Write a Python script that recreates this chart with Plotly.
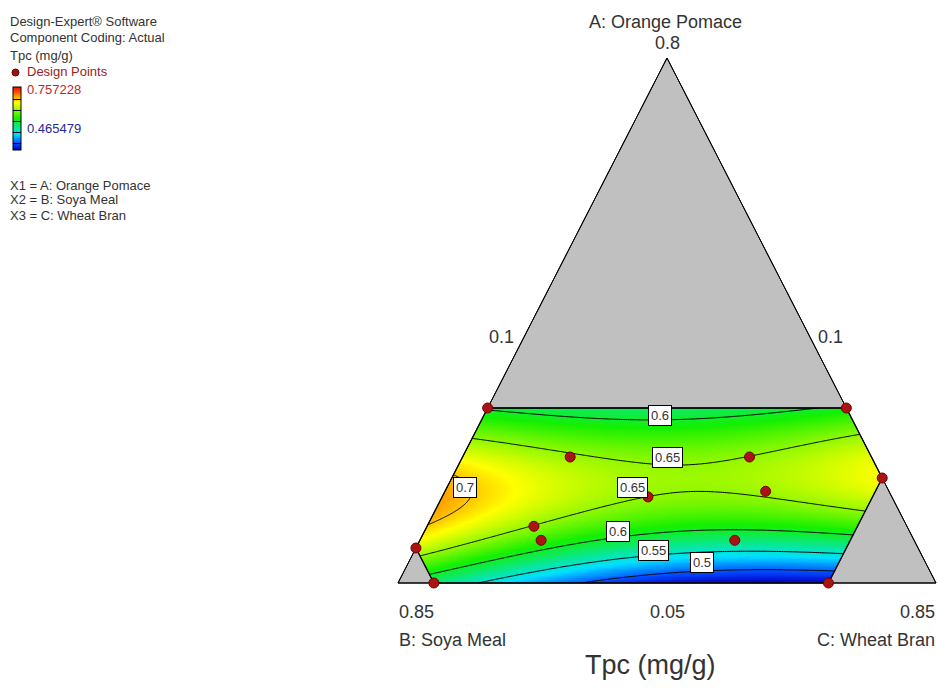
import numpy as np
import plotly.graph_objects as go

# ---------------- data ----------------
# component bounds (actual): A Orange Pomace, B Soya Meal, C Wheat Bran
A_lo, B_lo, C_lo = 0.05, 0.10, 0.10
A_hi_vertex, B_hi_vertex, C_hi_vertex = 0.8, 0.85, 0.85
# constrained design region limits
A_max, B_max, C_max = 0.30, 0.80, 0.70

# design points (A, B, C)
pt_A = [0.30, 0.30, 0.20, 0.05, 0.05, 0.10, 0.23, 0.23, 0.173, 0.181, 0.131, 0.111, 0.111]
pt_B = [0.60, 0.10, 0.10, 0.25, 0.80, 0.80, 0.52, 0.27, 0.440, 0.272, 0.620, 0.620, 0.350]
pt_C = [0.10, 0.60, 0.70, 0.70, 0.15, 0.10, 0.25, 0.50, 0.387, 0.547, 0.249, 0.269, 0.539]

# Tpc (mg/g) response: A, (C - B), value
read_A = [0.293, 0.287, 0.283, 0.287, 0.297,
          0.261, 0.243, 0.230, 0.219, 0.211, 0.230, 0.250, 0.266,
          0.209, 0.190, 0.173, 0.155, 0.136,
          0.090, 0.107, 0.130, 0.173, 0.189, 0.187, 0.180, 0.156,
          0.064, 0.093, 0.116, 0.119, 0.123, 0.121, 0.119,
          0.050, 0.071, 0.093, 0.093, 0.093,
          0.050, 0.059, 0.069, 0.069, 0.069,
          0.050, 0.050, 0.050, 0.175, 0.200, 0.300, 0.300, 0.300,
          0.200, 0.200, 0.150, 0.050,
          0.200, 0.175, 0.175, 0.290, 0.215, 0.050]
read_CB = [-0.493, -0.270, 0.050, 0.156, 0.390,
           -0.533, -0.400, -0.270, -0.039, 0.064, 0.223, 0.390, 0.530,
           -0.591, -0.565, -0.563, -0.600, -0.661,
           -0.700, -0.558, -0.374, -0.056, 0.064, 0.167, 0.279, 0.546,
           -0.652, -0.374, -0.151, -0.075, 0.112, 0.343, 0.490,
           -0.530, -0.300, -0.075, 0.200, 0.480,
           -0.270, -0.100, 0.064, 0.300, 0.450,
           0.000, 0.300, 0.450, -0.625, 0.600, 0.000, -0.500, 0.500,
           -0.300, 0.350, -0.300, -0.650,
           0.060, -0.500, -0.400, -0.050, 0.000, -0.150]
read_tpc = [0.60, 0.60, 0.60, 0.60, 0.60,
            0.65, 0.65, 0.65, 0.65, 0.65, 0.65, 0.65, 0.65,
            0.70, 0.70, 0.70, 0.70, 0.70,
            0.65, 0.65, 0.65, 0.65, 0.65, 0.65, 0.65, 0.65,
            0.60, 0.60, 0.60, 0.60, 0.60, 0.60, 0.60,
            0.55, 0.55, 0.55, 0.55, 0.55,
            0.50, 0.50, 0.50, 0.50, 0.50,
            0.476, 0.467, 0.466, 0.722, 0.685, 0.585, 0.597, 0.602,
            0.672, 0.665, 0.680, 0.580,
            0.653, 0.682, 0.672, 0.597, 0.652, 0.488]

legend_max, legend_min = 0.757228, 0.465479
contour_levels = [0.50, 0.55, 0.60, 0.65, 0.70]
# contour label positions (level text, A, C-B)
lab_text = ["0.6", "0.65", "0.65", "0.7", "0.6", "0.55", "0.5"]
lab_A = [0.289, 0.229, 0.187, 0.187, 0.123, 0.096, 0.080]
lab_CB = [-0.020, 0.000, -0.095, -0.562, -0.136, -0.039, 0.098]

# ---------------- model (polynomial fit to the read values) ----------------
rA = np.array(read_A); rX = np.array(read_CB); rZ = np.array(read_tpc)
terms = [(i, j) for i in range(5) for j in range(5 - i)]
def basis(a, x):
    u = (a - 0.175) / 0.125
    v = x / 0.65
    return np.stack([u**i * v**j for i, j in terms], axis=-1)
coef = np.linalg.lstsq(basis(rA, rX), rZ, rcond=None)[0]

gx = np.linspace(-0.70, 0.60, 261)
gA = np.linspace(A_lo, A_max, 126)
GX, GA = np.meshgrid(gx, gA)
GZ = basis(GA, GX) @ coef

# ---------------- figure ----------------
W, H = 937, 690
# pixel geometry of the simplex: apex (667,58), base y=583, base from 398 to 936
sx = 538 / 1.5
sy = 525 / 0.75
x_range = [-667 / sx, (W - 667) / sx]
y_range = [A_lo - (H - 583) / sy, A_lo + 583 / sy]

FONT = "Liberation Sans, Arial, sans-serif"

colorscale = [[0.0, "rgb(0,0,190)"], [0.1, "rgb(0,70,255)"], [0.25, "rgb(0,225,255)"],
              [0.5, "rgb(20,240,0)"], [0.75, "rgb(255,255,0)"], [1.0, "rgb(255,0,0)"]]

fig = go.Figure()
fig.add_trace(go.Contour(
    x=gx, y=gA, z=GZ, zmin=legend_min, zmax=legend_max, colorscale=colorscale,
    contours=dict(start=contour_levels[0], end=contour_levels[-1], size=0.05,
                  coloring="heatmap", showlabels=False),
    line=dict(color="black", width=1), line_smoothing=0.8,
    showscale=True, hoverinfo="skip",
    colorbar=dict(x=13 / W, xanchor="left", y=1 - 87 / H, yanchor="top",
                  lenmode="pixels", len=63, thicknessmode="pixels", thickness=8,
                  outlinecolor="black", outlinewidth=1, showticklabels=False, ticks="",
                  xpad=0, ypad=0, bgcolor="rgba(0,0,0,0)", borderwidth=0)))

def corner(a, b, c):
    return (c - b, a)

def poly(pts, fill, line_w, line_c="black"):
    xs = [p[0] for p in pts] + [pts[0][0]]
    ys = [p[1] for p in pts] + [pts[0][1]]
    fig.add_trace(go.Scatter(x=xs, y=ys, mode="lines", fill="toself", fillcolor=fill,
                             line=dict(color=line_c, width=line_w), hoverinfo="skip",
                             showlegend=False))

# vertices of simplex and region
VA = corner(A_hi_vertex, B_lo, C_lo)
VB = corner(A_lo, B_hi_vertex, C_lo)
VC = corner(A_lo, B_lo, C_hi_vertex)
R1 = corner(A_max, 1 - A_max - C_lo, C_lo)
R2 = corner(A_max, B_lo, 1 - A_max - B_lo)
R3 = corner(1 - B_lo - C_max, B_lo, C_max)
R4 = corner(A_lo, 1 - A_lo - C_max, C_max)
R5 = corner(A_lo, B_max, 1 - A_lo - B_max)
R6 = corner(1 - B_max - C_lo, B_max, C_lo)

# white masks outside the simplex within the contour grid
poly([R6, R1, (gx[0], A_max)], "white", 0, "white")
poly([R3, (gx[-1], A_max), R2], "white", 0, "white")
# grey excluded parts of the simplex
poly([R1, VA, R2], "rgb(192,192,192)", 1)
poly([VB, R5, R6], "rgb(192,192,192)", 1)
poly([R4, VC, R3], "rgb(192,192,192)", 1)
# outlines
fig.add_trace(go.Scatter(x=[VA[0], VB[0], VC[0], VA[0]], y=[VA[1], VB[1], VC[1], VA[1]],
                         mode="lines", line=dict(color="black", width=1), hoverinfo="skip",
                         showlegend=False))
reg = [R1, R2, R3, R4, R5, R6, R1]
fig.add_trace(go.Scatter(x=[p[0] for p in reg], y=[p[1] for p in reg], mode="lines",
                         line=dict(color="black", width=1.3), hoverinfo="skip", showlegend=False))

# design points
px_ = np.array(pt_C) - np.array(pt_B)
fig.add_trace(go.Scatter(x=px_, y=pt_A, mode="markers", cliponaxis=False,
                         marker=dict(size=10, color="rgb(170,20,20)",
                                     line=dict(color="rgb(110,0,0)", width=1)),
                         hoverinfo="skip", showlegend=False))

ann = []
for t, a, cb in zip(lab_text, lab_A, lab_CB):
    ann.append(dict(x=cb, y=a, xref="x", yref="y", text=t, showarrow=False,
                    bgcolor="white", bordercolor="black", borderwidth=1, borderpad=2,
                    font=dict(family=FONT, size=13, color="#333")))

def ptext(px, py, text, size, color="#333", xanchor="left"):
    ann.append(dict(x=px / W, y=1 - py / H, xref="paper", yref="paper", text=text,
                    showarrow=False, xanchor=xanchor, yanchor="middle",
                    font=dict(family=FONT, size=size, color=color)))

# axis texts
ptext(665, 22, "A: Orange Pomace", 18, xanchor="center")
ptext(667, 43, "0.8", 18, xanchor="center")
ptext(516, 337, "0.1", 18, xanchor="right")
ptext(816, 337, "0.1", 18, xanchor="left")
ptext(397, 612, "0.85", 18, xanchor="left")
ptext(397, 640, "B: Soya Meal", 18, xanchor="left")
ptext(667, 612, "0.05", 18, xanchor="center")
ptext(937, 612, "0.85", 18, xanchor="right")
ptext(937, 640, "C: Wheat Bran", 18, xanchor="right")
ptext(650, 665, "Tpc (mg/g)", 27, xanchor="center")

# legend texts
ptext(8, 22, "Design-Expert® Software", 13)
ptext(8, 38, "Component Coding: Actual", 13)
ptext(8, 55, "Tpc (mg/g)", 13)
ptext(25, 72, "Design Points", 13, color="rgb(150,30,30)")
ptext(25, 89, f"{legend_max:.6f}", 13, color="rgb(190,40,40)")
ptext(25, 128, f"{legend_min:.6f}", 13, color="rgb(40,40,150)")
ptext(8, 185, "X1 = A: Orange Pomace", 13)
ptext(8, 200, "X2 = B: Soya Meal", 13)
ptext(8, 215, "X3 = C: Wheat Bran", 13)

shapes = [dict(type="circle", xref="paper", yref="paper",
               x0=12 / W, x1=19 / W, y0=1 - 76 / H, y1=1 - 69 / H,
               fillcolor="rgb(150,20,20)", line=dict(color="rgb(110,0,0)", width=1))]

fig.update_layout(
    width=W, height=H, margin=dict(l=0, r=0, t=0, b=0),
    paper_bgcolor="white", plot_bgcolor="white", showlegend=False,
    xaxis=dict(range=x_range, visible=False, fixedrange=True),
    yaxis=dict(range=y_range, visible=False, fixedrange=True),
    annotations=ann, shapes=shapes,
)
fig.write_html("out.html")
